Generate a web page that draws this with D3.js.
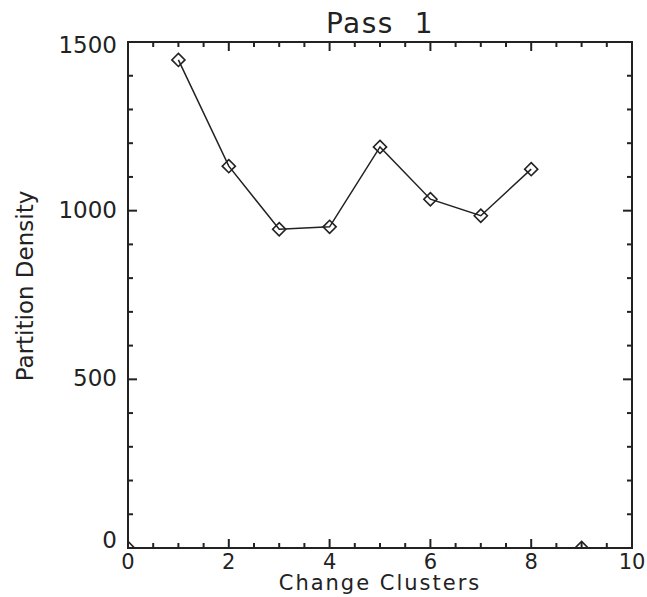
<!DOCTYPE html>
<meta charset="utf-8">
<style>
  body { margin: 0; background: #fff; }
  text { font-family: "DejaVu Sans", sans-serif; fill: #222; }
</style>
<body>
<script src="https://cdn.jsdelivr.net/npm/d3@7/dist/d3.min.js"></script>
<script>
// data
var clusters = [0, 1, 2, 3, 4, 5, 6, 7, 8, 9];
var density  = [0, 1447, 1132, 945, 952, 1189, 1034, 985, 1123, 0];
// only clusters 1..8 are joined by the line
var lineFrom = 1, lineTo = 8;

var xTicks = [0, 2, 4, 6, 8, 10];
var yTicks = [0, 500, 1000, 1500];

var W = 647, H = 597;
var margin = {top: 42, right: 15, bottom: 49, left: 128};
var width = W - margin.left - margin.right,
    height = H - margin.top - margin.bottom;

var svg = d3.select("body").append("svg")
    .attr("width", W)
    .attr("height", H);

var g = svg.append("g")
    .attr("transform", "translate(" + margin.left + "," + margin.top + ")");

var x = d3.scaleLinear().domain([0, 10]).range([0, width]);
var y = d3.scaleLinear().domain([0, 1500]).range([height, 0]);

// clip for the markers
svg.append("defs").append("clipPath").attr("id", "plotclip")
  .append("rect").attr("width", width).attr("height", height);

var ink = "#222";

// minor + major ticks pointing inward on all four sides
var xMinor = d3.range(0, 10.01, 0.5);
var yMinor = d3.range(0, 1500.1, 100);
function isMajorX(v) { return Math.abs(v % 2) < 1e-6; }
function isMajorY(v) { return Math.abs(v % 500) < 1e-6; }

var ticks = g.append("g").attr("stroke", ink).attr("stroke-width", 2);
xMinor.forEach(function(v) {
  var len = isMajorX(v) ? 9 : 5;
  ticks.append("line").attr("x1", x(v)).attr("x2", x(v)).attr("y1", height).attr("y2", height - len);
  ticks.append("line").attr("x1", x(v)).attr("x2", x(v)).attr("y1", 0).attr("y2", len);
});
yMinor.forEach(function(v) {
  var len = isMajorY(v) ? 9 : 5;
  ticks.append("line").attr("y1", y(v)).attr("y2", y(v)).attr("x1", 0).attr("x2", len);
  ticks.append("line").attr("y1", y(v)).attr("y2", y(v)).attr("x1", width).attr("x2", width - len);
});

// frame
g.append("rect")
  .attr("width", width).attr("height", height)
  .attr("fill", "none").attr("stroke", ink).attr("stroke-width", 2);

// tick labels
g.selectAll(".xl").data(xTicks).enter().append("text")
  .attr("class", "xl")
  .attr("x", function(d) { return x(d); })
  .attr("y", height + 21)
  .attr("text-anchor", "middle")
  .style("font-size", "21px")
  .text(function(d) { return d; });

// end labels are pulled inside the frame, like the original
g.selectAll(".yl").data(yTicks).enter().append("text")
  .attr("class", "yl")
  .attr("x", -11)
  .attr("y", function(d) { return Math.max(11, Math.min(height, y(d) + 7)); })
  .attr("text-anchor", "end")
  .style("font-size", "23px")
  .text(function(d) { return d; });

// line + diamonds
var pts = clusters.map(function(c, i) { return [c, density[i]]; });
var linePts = pts.filter(function(p) { return p[0] >= lineFrom && p[0] <= lineTo; });

var plot = g.append("g").attr("clip-path", "url(#plotclip)");

plot.append("path")
  .datum(linePts)
  .attr("d", d3.line().x(function(d) { return x(d[0]); }).y(function(d) { return y(d[1]); }))
  .attr("fill", "none")
  .attr("stroke", ink)
  .attr("stroke-width", 1.5);

var diamond = d3.symbol().type(d3.symbolDiamond2).size(110);
plot.selectAll(".pt").data(pts).enter().append("path")
  .attr("class", "pt")
  .attr("transform", function(d) { return "translate(" + x(d[0]) + "," + y(d[1]) + ")"; })
  .attr("d", diamond)
  .attr("fill", "none")
  .attr("stroke", ink)
  .attr("stroke-width", 1.6);

// titles
svg.append("text")
  .attr("x", margin.left + width / 2)
  .attr("y", 33)
  .attr("text-anchor", "middle")
  .style("font-size", "28px")
  .style("letter-spacing", "1.5px")
  .style("white-space", "pre")
  .text("Pass  1");

svg.append("text")
  .attr("x", margin.left + width / 2)
  .attr("y", 590)
  .attr("text-anchor", "middle")
  .style("font-size", "21px")
  .style("letter-spacing", "2px")
  .text("Change Clusters");

svg.append("text")
  .attr("transform", "translate(33,286) rotate(-90)")
  .attr("text-anchor", "middle")
  .style("font-size", "23px")
  .text("Partition Density");
</script>
</body>
